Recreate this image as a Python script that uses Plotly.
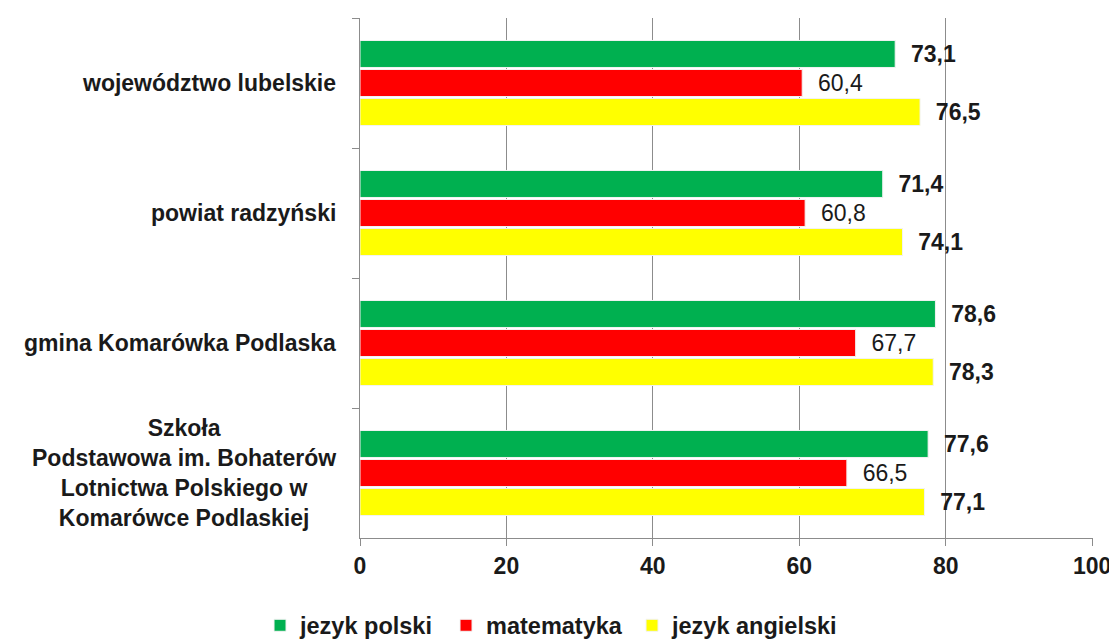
import plotly.graph_objects as go

categories = ["województwo lubelskie", "powiat radzyński", "gmina Komarówka Podlaska",
              "Szkoła<br>Podstawowa im. Bohaterów<br>Lotnictwa Polskiego w<br>Komarówce Podlaskiej"]
series_names = ["jezyk polski", "matematyka", "jezyk angielski"]
polski = [73.1, 71.4, 78.6, 77.6]
matematyka = [60.4, 60.8, 67.7, 66.5]
angielski = [76.5, 74.1, 78.3, 77.1]
x_ticks = [0, 20, 40, 60, 80, 100]

colors = ["#00B050", "#FF0000", "#FFFF00"]
weights = ["bold", "normal", "bold"]
legend_widths = [141, 141, 190]
FONT = "Liberation Sans"
FS = 23

fig = go.Figure()
for name, vals, col, w, lw in zip(series_names, [polski, matematyka, angielski], colors, weights, legend_widths):
    fig.add_trace(go.Bar(
        y=categories, x=vals, name=name, orientation="h",
        marker=dict(color=col, line=dict(color="#f2f2f2", width=1)),
        text=["  " + f"{v:.1f}".replace(".", ",") for v in vals],
        textposition="outside", cliponaxis=False, legendwidth=lw,
        textfont=dict(family=FONT, size=FS, color="#1a1a1a", weight=w),
    ))

for c in categories:
    fig.add_annotation(xref="paper", x=0, xanchor="right", xshift=-22,
                       y=c, yref="y", text=c, showarrow=False, align="center",
                       font=dict(family=FONT, size=FS, color="#1a1a1a", weight="bold"))

fig.update_layout(
    width=1101, height=633,
    margin=dict(l=352, r=16, t=10, b=103, autoexpand=False),
    plot_bgcolor="white", paper_bgcolor="white",
    barmode="group", bargap=0.33, bargroupgap=0.07,
    showlegend=True,
    legend=dict(orientation="h", x=-0.1364, xanchor="left", y=-0.126, yanchor="top",
                font=dict(family=FONT, size=23.5, color="#1a1a1a", weight="bold"),
                itemwidth=30, traceorder="normal", entrywidthmode="pixels"),
    font=dict(family=FONT),
)
fig.update_xaxes(range=[0, 100.12], tickvals=x_ticks, showgrid=True, gridcolor="#8c8c8c", gridwidth=1,
                 showline=True, linecolor="#8c8c8c", linewidth=1, ticks="outside", ticklen=7,
                 tickcolor="#8c8c8c", zeroline=False, automargin=False, ticklabeloverflow="allow",
                 tickfont=dict(family=FONT, size=FS, color="#1a1a1a", weight="bold"))
fig.update_yaxes(autorange="reversed", showticklabels=False, showgrid=False, automargin=False,
                 showline=True, linecolor="#8c8c8c", linewidth=1,
                 ticks="outside", tickson="boundaries", ticklen=7, tickcolor="#8c8c8c")

fig.write_html("out.html")
